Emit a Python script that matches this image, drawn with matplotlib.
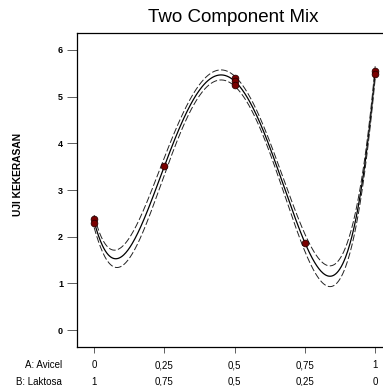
import numpy as np
import matplotlib
matplotlib.use('Agg')
import matplotlib.pyplot as plt
import matplotlib.transforms as mtransforms

plt.rcParams['font.family'] = ['Liberation Sans', 'DejaVu Sans']

# design points (A: Avicel fraction) and measured hardness
avicel = [0, 0, 0.25, 0.5, 0.5, 0.5, 0.75, 1, 1]
hardness = [2.37, 2.29, 3.51, 5.41, 5.34, 5.25, 1.87, 5.55, 5.49]

tick_a = ['0', '0,25', '0,5', '0,75', '1']
tick_b = ['1', '0,75', '0,5', '0,25', '0']
tick_pos = [0, 0.25, 0.5, 0.75, 1]

# quartic mixture model fitted by least squares, with 95% CI of the mean
x = np.array(avicel)
y = np.array(hardness)
X = np.vander(x, 5)
coef, rss, _, _ = np.linalg.lstsq(X, y, rcond=None)
dof = len(y) - 5
s2 = np.sum((y - X @ coef) ** 2) / dof
XtX_inv = np.linalg.inv(X.T @ X)
t_crit = 2.776  # t(0.975, df=4)

xs = np.linspace(0, 1, 400)
Xs = np.vander(xs, 5)
fit = Xs @ coef
half = t_crit * np.sqrt(s2 * np.einsum('ij,jk,ik->i', Xs, XtX_inv, Xs))

fig = plt.figure(figsize=(3.83, 3.86), dpi=100)
ax = fig.add_axes([0.201, 0.101, 0.805, 0.8135])

ax.plot(xs, fit, color='black', lw=0.9, zorder=3)
ax.plot(xs, fit + half, color='#222222', lw=0.7, ls=(0, (7, 2.5)), zorder=3)
ax.plot(xs, fit - half, color='#222222', lw=0.7, ls=(0, (7, 2.5)), zorder=3)
ax.plot(avicel, hardness, 'o', ms=4.8, mfc='#7a0000', mec='#2a0000', mew=0.6, zorder=5)

ax.set_xlim(-0.061, 1.036)
ax.set_ylim(-0.364, 6.364)
ax.set_yticks([0, 1, 2, 3, 4, 5, 6])
ax.set_xticks(tick_pos)
ax.set_xticklabels([])
ax.tick_params(axis='y', length=7, width=0.6, labelsize=6.5, pad=3, color='#444444')
ax.tick_params(axis='x', length=4.5, width=0.6, color='#444444')
for lab in ax.get_yticklabels():
    lab.set_fontweight('bold')
for sp in ax.spines.values():
    sp.set_linewidth(0.9)

trans = mtransforms.blended_transform_factory(ax.transData, fig.transFigure)
row_a = 1 - 365 / 386
row_b = 1 - 382 / 386
for p, a, b in zip(tick_pos, tick_a, tick_b):
    ax.text(p, row_a, a, transform=trans, ha='center', va='center', fontsize=7)
    ax.text(p, row_b, b, transform=trans, ha='center', va='center', fontsize=7)
fig.text(62 / 383, row_a, 'A: Avicel', ha='right', va='center', fontsize=7)
fig.text(62 / 383, row_b, 'B: Laktosa', ha='right', va='center', fontsize=7)

fig.text(18 / 383, 1 - 174 / 386, 'UJI KEKERASAN', rotation=90, ha='center', va='center',
         fontsize=7.4, fontweight='bold')
fig.text(233 / 383, 1 - 17 / 386, 'Two Component Mix', ha='center', va='center', fontsize=13.5)

fig.savefig('out.png', dpi=100)
